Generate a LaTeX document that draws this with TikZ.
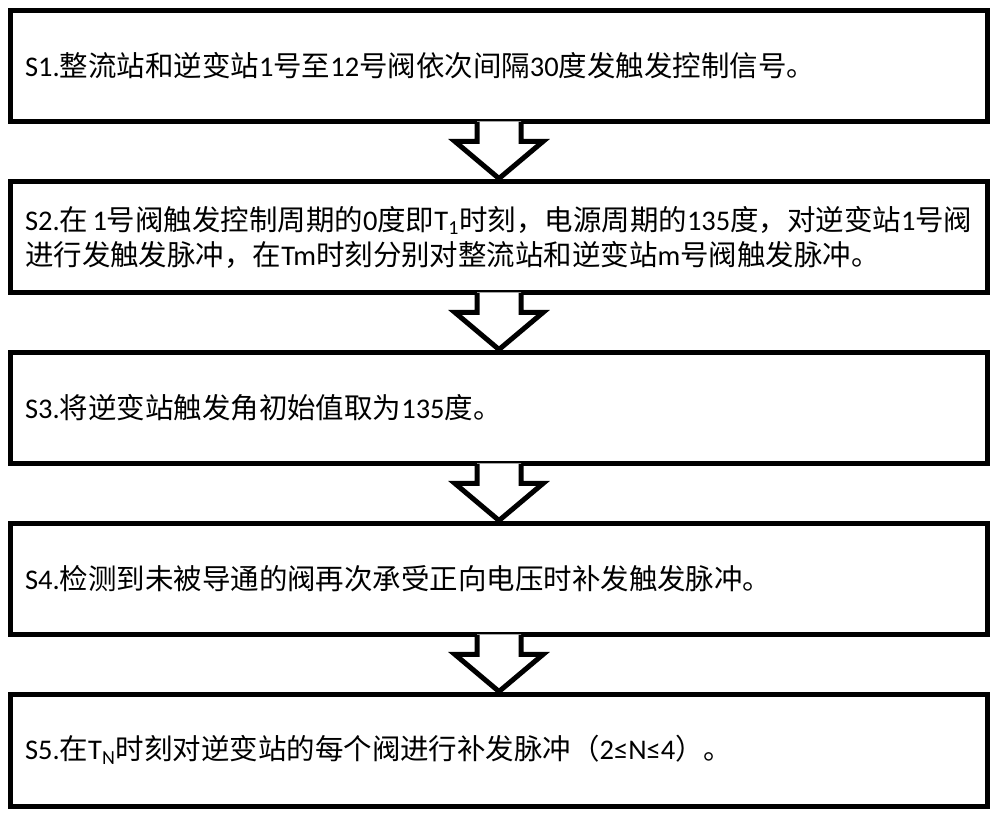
\documentclass[tikz,border=0pt]{standalone}
\usepackage{fontspec}
\setmainfont{Noto Sans CJK SC}
\newfontfamily\lat{Carlito}
\usetikzlibrary{calc}
\begin{document}
\begin{tikzpicture}[x=0.02cm, y=-0.02cm, line width=0.1cm,
    stepbox/.style={draw, rectangle, minimum width=19.56cm, minimum height=2.24cm,
      text width=18.96cm, inner xsep=0.3cm, align=left,
      font=\fontsize{16.2pt}{19.9pt}\selectfont}]
    \useasboundingbox (0,0) rectangle (1000,818);

    % 步骤框 S1--S5
    \node[stepbox] (s1) at (499,66) {{\lat S1.}整流站和逆变站{\lat 1}号至{\lat 12}号阀依次间隔{\lat 30}度发触发控制信号。};
    \node[stepbox] (s2) at (499,237) {{\lat S2.}在{\lat\kern0.15em 1}号阀触发控制周期的{\lat 0}度即{\lat T\textsubscript{1}}时刻，电源周期的{\lat 135}度，对逆变站{\lat 1}号阀\\进行发触发脉冲，在{\lat Tm}时刻分别对整流站和逆变站{\lat m}号阀触发脉冲。};
    \node[stepbox] (s3) at (499,408) {{\lat S3.}将逆变站触发角初始值取为{\lat 135}度。};
    \node[stepbox] (s4) at (499,579) {{\lat S4.}检测到未被导通的阀再次承受正向电压时补发触发脉冲。};
    \node[stepbox] (s5) at (499,750) {{\lat S5.}在{\lat T\textsubscript{N}}时刻对逆变站的每个阀进行补发脉冲（{\lat 2≤N≤4}）。};

    % 框间空心箭头（与上框相通）
    \foreach \a/\b in {s1/s2, s2/s3, s3/s4, s4/s5} {
      \fill[white] ($(\a.south)+(-22,-3)$) |- ($(\a.south)+(-44,17)$) -- (\b.north)
        -- ($(\a.south)+(44,17)$) -| ($(\a.south)+(22,-3)$) -- cycle;
      \draw[line cap=rect] ($(\a.south)+(-22,0)$) |- ($(\a.south)+(-44,17)$) -- (\b.north)
        -- ($(\a.south)+(44,17)$) -| ($(\a.south)+(22,0)$);
    }
\end{tikzpicture}
\end{document}
